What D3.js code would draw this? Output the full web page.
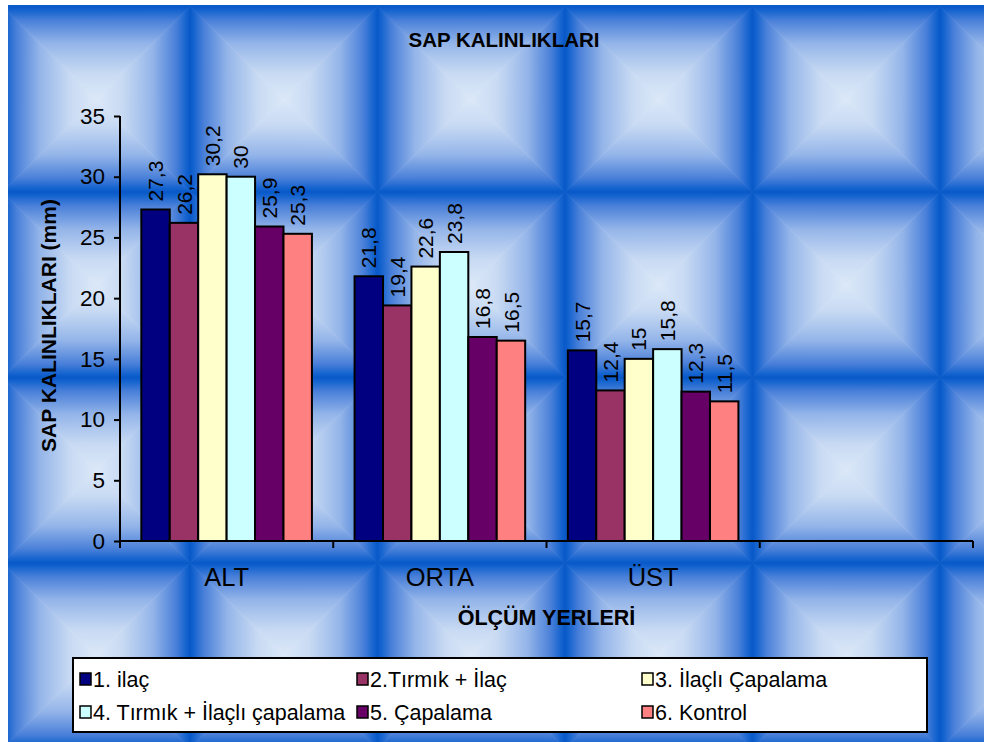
<!DOCTYPE html>
<html>
<head>
<meta charset="utf-8">
<script src="https://cdn.jsdelivr.net/npm/d3@7"></script>
<style>
  html, body { margin: 0; padding: 0; background: #fff; }
  svg text { font-family: "Liberation Sans", Arial, sans-serif; fill: #000; }
</style>
</head>
<body>
<svg id="chart" width="984" height="742"></svg>
<script>
// Measurement locations on the x axis (the fourth slot is left empty)
const categories = ["ALT", "ORTA", "ÜST", ""];
const seriesNames = [
  "1. ilaç",
  "2.Tırmık + İlaç",
  "3. İlaçlı Çapalama",
  "4. Tırmık + İlaçlı çapalama",
  "5. Çapalama",
  "6. Kontrol"
];
const seriesColors = ["#000080", "#993366", "#FFFFCC", "#CCFFFF", "#660066", "#FF8080"];
// Stem thickness (mm) per treatment, in the order ALT, ORTA, ÜST
const ilac = [27.3, 21.8, 15.7];
const tirmikIlac = [26.2, 19.4, 12.4];
const ilacliCapalama = [30.2, 22.6, 15.0];
const tirmikIlacliCapalama = [30.0, 23.8, 15.8];
const capalama = [25.9, 16.8, 12.3];
const kontrol = [25.3, 16.5, 11.5];
const seriesValues = [ilac, tirmikIlac, ilacliCapalama, tirmikIlacliCapalama, capalama, kontrol];
const yTicks = [0, 5, 10, 15, 20, 25, 30, 35];

const titleText = "SAP KALINLIKLARI";
const xTitleText = "ÖLÇÜM YERLERİ";
const yTitleText = "SAP KALINLIKLARI (mm)";

const svg = d3.select("#chart");
const W = 984, H = 742;

// ---- tiled "pillow" background ----
const defs = svg.append("defs");
const tileW = 187.5, tileH = 185.5;
const stops = [
  [0, "#0858c8"], [0.04, "#1463cf"], [0.15, "#4a80d9"],
  [0.4, "#94b5e9"], [0.72, "#c8daf3"], [1, "#dbe8f8"]
];
const dirs = {
  top:    { x1: 0, y1: 0, x2: 0, y2: 1 },
  bottom: { x1: 0, y1: 1, x2: 0, y2: 0 },
  left:   { x1: 0, y1: 0, x2: 1, y2: 0 },
  right:  { x1: 1, y1: 0, x2: 0, y2: 0 }
};
Object.entries(dirs).forEach(([k, d]) => {
  const g = defs.append("linearGradient").attr("id", "g-" + k)
    .attr("x1", d.x1).attr("y1", d.y1).attr("x2", d.x2).attr("y2", d.y2);
  stops.forEach(s => g.append("stop").attr("offset", s[0]).attr("stop-color", s[1]));
});
const pat = defs.append("pattern").attr("id", "tile")
  .attr("patternUnits", "userSpaceOnUse")
  .attr("x", 2.5).attr("y", 6.5)
  .attr("width", tileW).attr("height", tileH);
const cx = tileW / 2, cy = tileH / 2;
const facets = [
  ["top",    [[0, 0], [tileW, 0], [cx, cy]]],
  ["bottom", [[0, tileH], [tileW, tileH], [cx, cy]]],
  ["left",   [[0, 0], [0, tileH], [cx, cy]]],
  ["right",  [[tileW, 0], [tileW, tileH], [cx, cy]]]
];
facets.forEach(([k, pts]) => {
  pat.append("polygon")
    .attr("points", pts.map(p => p.join(",")).join(" "))
    .attr("fill", `url(#g-${k})`)
    .attr("stroke", `url(#g-${k})`).attr("stroke-width", 0.6);
});

svg.append("rect").attr("width", W).attr("height", H).attr("fill", "#fff");
svg.append("rect").attr("x", 8).attr("y", 5).attr("width", W - 8).attr("height", H - 5)
  .attr("fill", "url(#tile)");

// ---- scales ----
const plot = { left: 120, right: 973, top: 116, bottom: 541 };
const x0 = d3.scaleBand().domain(categories).range([plot.left, plot.right])
  .paddingInner(0).paddingOuter(0);
const x1 = d3.scaleBand().domain(d3.range(seriesNames.length))
  .range([0, x0.bandwidth()]).paddingInner(0).paddingOuter(0.75);
const y = d3.scaleLinear().domain([0, 35]).range([plot.bottom, plot.top]);

// ---- title ----
svg.append("text").attr("x", 504).attr("y", 47)
  .attr("text-anchor", "middle").attr("font-size", 20.5).attr("font-weight", "bold")
  .text(titleText);

// ---- bars ----
const data = [];
seriesValues.forEach((vals, si) => {
  vals.forEach((v, ci) => data.push({ si, cat: categories[ci], v }));
});

const bars = svg.append("g");
bars.selectAll("rect").data(data).join("rect")
  .attr("x", d => x0(d.cat) + x1(d.si))
  .attr("y", d => y(d.v))
  .attr("width", x1.bandwidth())
  .attr("height", d => y(0) - y(d.v))
  .attr("fill", d => seriesColors[d.si])
  .attr("stroke", "#000").attr("stroke-width", 2);

// ---- value labels (rotated) ----
const fmt = v => String(v).replace(".", ",");
svg.append("g").selectAll("text").data(data).join("text")
  .attr("transform", d => `translate(${x0(d.cat) + x1(d.si) + x1.bandwidth() / 2},${y(d.v) - 8}) rotate(-90)`)
  .attr("dy", "0.36em")
  .attr("font-size", 21)
  .text(d => fmt(d.v));

// ---- y axis ----
const yAxis = d3.axisLeft(y).tickValues(yTicks).tickSize(6).tickPadding(9);
const gy = svg.append("g").attr("transform", `translate(${plot.left},0)`).call(yAxis);
gy.select(".domain").attr("stroke", "#000").attr("stroke-width", 2)
  .attr("d", `M0,${plot.top}V${plot.bottom}`);
gy.selectAll(".tick line").attr("stroke", "#000").attr("stroke-width", 2);
gy.selectAll(".tick text").attr("font-size", 22.5).attr("font-family", null).attr("fill", "#000");

// ---- x axis ----
const xAxis = d3.axisBottom(x0).tickSize(0).tickPadding(27);
const gx = svg.append("g").attr("transform", `translate(0,${plot.bottom})`).call(xAxis);
gx.select(".domain").attr("stroke", "#000").attr("stroke-width", 2)
  .attr("d", `M${plot.left},0H${plot.right}`);
gx.selectAll(".tick text").attr("font-size", 25.5).attr("font-family", null).attr("fill", "#000");
const bounds = categories.map(c => x0(c)).concat([x0.range()[1]]);
gx.append("g").selectAll("line").data(bounds).join("line")
  .attr("x1", d => d).attr("x2", d => d).attr("y1", 0).attr("y2", 7)
  .attr("stroke", "#000").attr("stroke-width", 2);

// ---- axis titles ----
svg.append("text").attr("x", (plot.left + plot.right) / 2).attr("y", 625)
  .attr("text-anchor", "middle").attr("font-size", 21.5).attr("font-weight", "bold")
  .text(xTitleText);
svg.append("text")
  .attr("transform", `translate(56,${(plot.top + plot.bottom) / 2 - 3}) rotate(-90)`)
  .attr("text-anchor", "middle").attr("font-size", 21).attr("font-weight", "bold")
  .text(yTitleText);

// ---- legend ----
const legend = svg.append("g");
legend.append("rect").attr("x", 73).attr("y", 658).attr("width", 854).attr("height", 74)
  .attr("fill", "#fff").attr("stroke", "#000").attr("stroke-width", 2);
const colX = [80, 357, 642];
const rowY = [679, 712];
const items = legend.selectAll("g.item").data(seriesNames).join("g")
  .attr("class", "item")
  .attr("transform", (d, i) => `translate(${colX[i % 3]},${rowY[Math.floor(i / 3)]})`);
items.append("rect").attr("x", 0).attr("y", -6).attr("width", 11).attr("height", 12)
  .attr("fill", (d, i) => seriesColors[i]).attr("stroke", "#000").attr("stroke-width", 1.5);
items.append("text").attr("x", 13).attr("dy", "0.36em").attr("font-size", 21.5)
  .text(d => d);
</script>
</body>
</html>
